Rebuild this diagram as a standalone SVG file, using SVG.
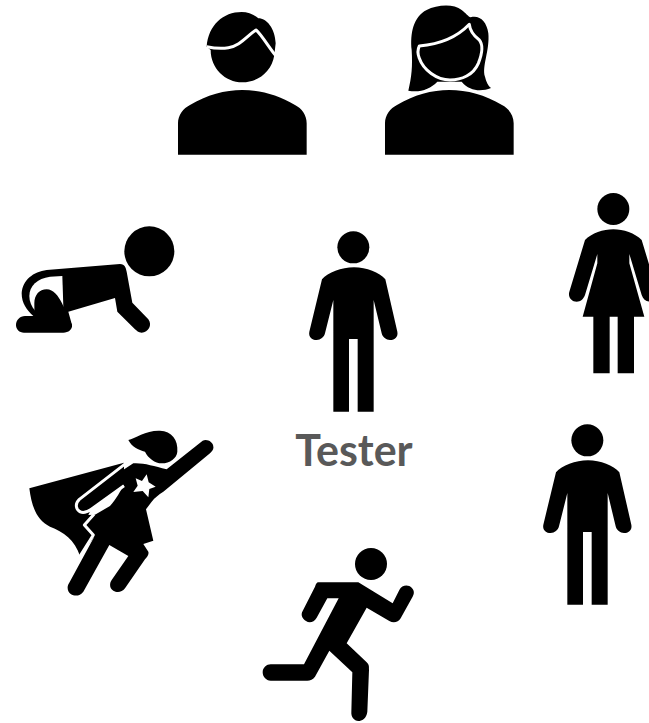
<svg xmlns="http://www.w3.org/2000/svg" width="649" height="723" viewBox="0 0 649 723">
<style>
.k{fill:#000}
.w{fill:#fff}
.l{fill:none;stroke:#fff;stroke-width:9;stroke-linejoin:round}
.t{font-family:"Lato","Liberation Sans",sans-serif;font-weight:700;font-size:43px;fill:#595959;text-anchor:middle}
</style>
<defs>
<g id="man-shape">
<circle class="k" cx="220" cy="82" r="48"/>
<path class="k" d="M222 142C260 142 298 158 316 178L352 335C355 350 345 360 330 360C318 360 308 352 305 340L281 240L281 575L233 575L233 357L207 357L207 575L160 575L160 240L135 340C132 352 122 360 110 360C95 360 85 350 88 335L126 178C144 158 184 142 222 142Z"/>
</g>
<path id="bust" class="k" d="M54 464L54 370C54 345 70 325 90 315C140 285 195 270 247 270C300 270 355 285 405 315C425 325 440 345 440 370L440 464Z"/>
</defs>
<g id="man-portrait" transform="translate(160 0) scale(.33333)">
<path class="k" d="M140 140C145 75 190 36 245 36C265 36 285 45 295 55C320 55 345 85 347 130L343 165C335 215 295 247 247 247C195 247 152 205 152 150Z"/>
<path class="l" d="M140 140C165 145 185 146 205 143C240 138 260 108 288 90C305 105 325 140 347 167"/>
<use href="#bust"/>
</g>
<g id="woman-portrait" transform="translate(160 0) scale(.33333)">
<path class="k" d="M745 272C755 230 758 200 755 150C750 100 760 50 800 30C830 15 880 10 905 30C918 40 925 50 932 52C960 45 980 65 985 100C990 150 965 200 975 230C978 245 985 258 993 264C965 275 930 275 905 245L832 245C810 268 780 278 745 272Z"/>
<path class="k l" style="fill:#000" d="M778 138C840 133 890 113 928 73C930 95 945 110 958 120C970 135 965 165 955 190C940 225 905 240 870 240C830 240 790 210 778 175C772 160 772 150 778 138Z"/>
<use href="#bust" x="621"/>
</g>
<g id="baby" transform="translate(0 210) scale(.33333)">
<circle class="k" cx="448" cy="124" r="75"/>
<path class="k" d="M140 180L360 162C375 162 378 175 380 185L397 278L445 328C458 345 445 368 425 368C415 368 410 362 405 358L352 305L345 264L205 305L216 345C218 358 205 368 190 368L72 368C58 368 48 358 48 345C48 330 60 318 75 318L100 318C80 300 65 280 65 250C68 210 100 185 140 180Z"/>
<path class="w" d="M187 198L150 200C112 205 88 228 88 258C88 275 95 290 106 303L190 290Z"/>
<path class="k" d="M103 280C103 255 118 238 140 238C160 238 175 258 186 280L216 345L100 345C105 330 103 300 103 280Z"/>
</g>
<g id="superhero" transform="translate(20 420) scale(.33333)">
<path class="k" d="M325 60C345 55 380 30 420 32C455 33 475 60 472 95C470 115 450 130 425 130C405 130 385 115 375 95C355 90 335 80 325 60Z"/>
<path class="k" d="M312 128L28 205C35 260 50 300 90 320C130 335 165 360 180 408L222 352L198 315L225 283L312 197Z"/>
<path class="k" d="M340 130C370 128 400 138 440 148L548 62C560 55 580 65 580 80C582 88 575 95 570 100L430 215C415 225 405 232 395 245L378 268L400 362L370 372L385 395C388 405 380 412 375 418L315 505C305 518 290 518 280 512C268 505 268 490 275 480L325 408L268 375L190 515C180 528 165 530 152 522C142 515 140 500 147 490L222 352L198 315L225 283L180 235Z"/>
<path class="l" d="M328 122L178 238C163 252 168 272 185 277C195 279 205 274 215 267L312 197"/>
<path class="w" d="M312 194L215 264L205 285L225 284L270 258C290 235 300 215 312 194Z"/>
<path class="l" d="M222 283L193 315L220 345L178 412"/>
<path class="w" d="M380 163L386 187L407 200L388 207L385 232L368 213L340 216L353 197L347 175L366 183Z"/>
</g>
<g id="runner" transform="translate(250 535) scale(.33333)">
<circle class="k" cx="363" cy="87" r="48"/>
<path class="k" d="M205 142L325 142L428 205L448 165C455 150 475 148 485 158C495 168 492 178 487 187L452 250C445 262 430 265 418 258L350 218L290 325L350 382C358 390 357 395 357 405L352 530C350 550 335 558 325 558C312 558 303 545 304 532L307 412L238 347L195 425C190 433 180 437 172 437L62 437C48 437 38 425 38 412C38 398 50 388 62 388L162 388L266 190L232 190L200 248C192 262 178 265 168 258C155 250 152 238 158 228L195 155C198 147 200 142 205 142Z"/>
</g>
<g id="tester" transform="translate(280 220) scale(.33333)">
<use href="#man-shape"/>
</g>
<text id="tester-label" class="t" x="354" y="466">Tester</text>
<g id="woman" transform="translate(530 180) scale(.33333)">
<circle class="k" cx="250" cy="87" r="48"/>
<path class="k" d="M250 148C280 148 315 160 335 180L382 335C387 352 375 365 360 365C348 365 340 358 335 345L298 222L298 250L343 410L312 410L312 580L263 580L263 410L239 410L239 580L190 580L190 410L158 410L202 250L202 222L165 345C160 358 152 365 140 365C125 365 113 352 118 335L165 180C185 160 220 148 250 148Z"/>
</g>
<g id="man" transform="translate(514 413) scale(.33333)">
<use href="#man-shape"/>
</g>
<g id="connectors"/>
</svg>
